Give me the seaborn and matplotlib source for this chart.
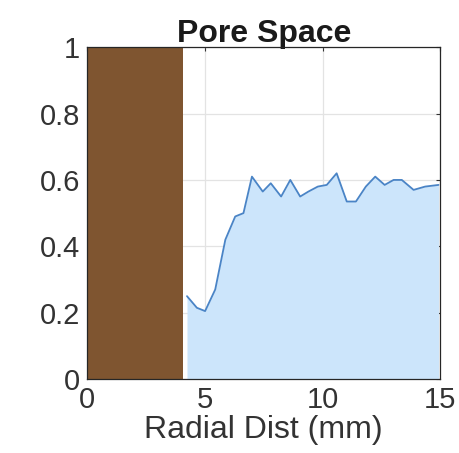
import numpy as np
import pandas as pd
import seaborn as sns
import matplotlib.pyplot as plt

# Data
wall_end = 4.05  # solid (brown) region, mm
radial_dist = [4.24, 4.66, 5.01, 5.44, 5.87, 6.29, 6.64, 7.0, 7.46, 7.8,
               8.24, 8.63, 9.05, 9.4, 9.8, 10.18, 10.6, 11.03, 11.42, 11.84,
               12.24, 12.64, 13.02, 13.37, 13.87, 14.36, 14.93]
pore_space = [0.25, 0.215, 0.205, 0.27, 0.42, 0.49, 0.50, 0.61, 0.565, 0.59,
              0.55, 0.60, 0.55, 0.565, 0.58, 0.585, 0.62, 0.535, 0.535, 0.58,
              0.61, 0.585, 0.60, 0.60, 0.57, 0.58, 0.585]

df = pd.DataFrame({'dist': radial_dist, 'pore': pore_space})

sns.set_theme(style="whitegrid")
plt.rcParams['font.family'] = ['Liberation Sans', 'DejaVu Sans']

fig = plt.figure(figsize=(4.59, 4.53), dpi=100)
ax = fig.add_axes([0.19, 0.163, 0.769, 0.733])

# grid sits under the fills
ax.set_axisbelow(True)
ax.grid(True, color='#e3e3e3', linewidth=0.9)

ax.axvspan(0, wall_end, color='#7f5530', zorder=2, lw=0)
ax.fill_between(df['dist'], df['pore'], 0, color='#cce5fb', zorder=2, lw=0)
sns.lineplot(x='dist', y='pore', data=df, ax=ax, color='#4a84c6',
             linewidth=1.3, zorder=3)

ax.set_xlim(0, 15)
ax.set_ylim(0, 1)
ax.set_xticks([0, 5, 10, 15])
ax.set_yticks([0, 0.2, 0.4, 0.6, 0.8, 1])
ax.set_yticklabels(['0', '0.2', '0.4', '0.6', '0.8', '1'])
ax.tick_params(direction='in', length=3, width=0.8, top=True, right=True,
               labelsize=21, colors='#333333', pad=5)
for s in ax.spines.values():
    s.set_visible(True)
    s.set_color('#262626')
    s.set_linewidth(0.9)
    s.set_zorder(5)

ax.set_title('Pore Space', fontsize=23, fontweight='bold', color='#1a1a1a', pad=4)
ax.set_xlabel('Radial Dist (mm)', fontsize=23, color='#333333', labelpad=1)
ax.set_ylabel('')

fig.savefig('out.png', dpi=100, facecolor='white')
